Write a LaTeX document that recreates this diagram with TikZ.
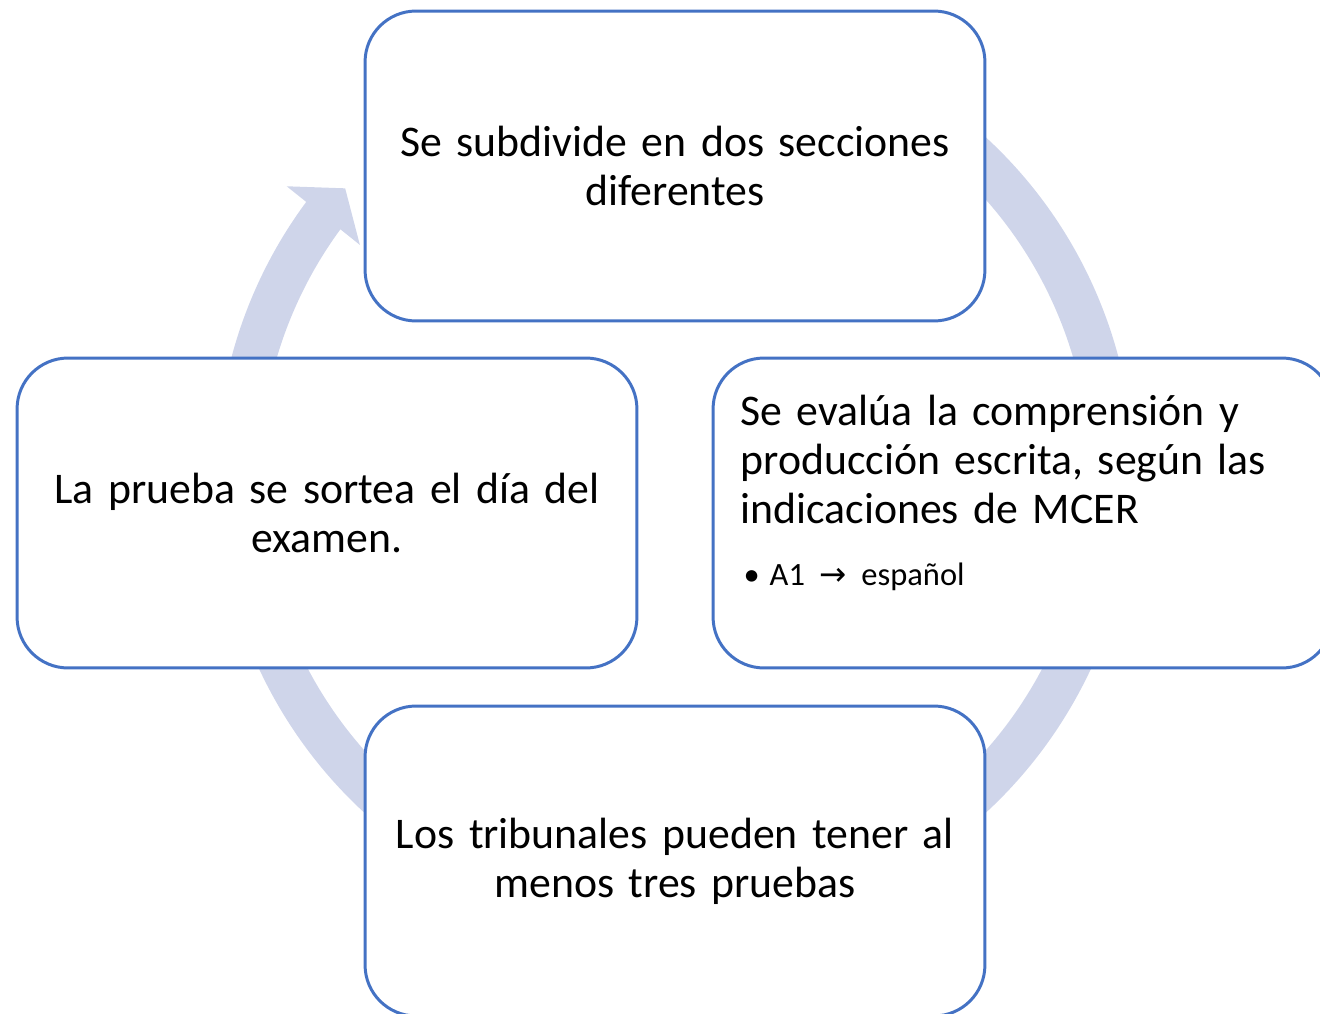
\documentclass[tikz,border=0pt]{standalone}
\usepackage{fontspec}
\setmainfont{Carlito}
\newfontfamily\arrowfont{DejaVu Sans}
\usetikzlibrary{arrows.meta,bending}
\definecolor{ringblue}{RGB}{207,213,234}
\definecolor{edgeblue}{RGB}{68,114,196}

\begin{document}
\begin{tikzpicture}[
    x=0.02cm, y=-0.02cm,
    stage/.style={rectangle, draw=edgeblue, line width=1.7pt, fill=white,
        rounded corners=1.02cm, minimum width=12.4cm, minimum height=6.2cm,
        text width=11.3cm, align=center, font=\fontsize{24.9}{27.8}\selectfont},
    ring/.style={draw=ringblue, line width=24.9pt}
]
    \useasboundingbox (0,0) rectangle (1320,1014);
    \coordinate (hub) at (675,475);
    \draw[ring, -{Triangle[length=0.7cm,width=1.84cm]}]
        ([shift={(-60:437)}]hub) arc[start angle=-60, end angle=221, radius=437];

    \node[stage] (sections) at (675,166) {Se subdivide en dos secciones\\diferentes};
    \node[stage, align=left] (skills) at (1023,513) {Se evalúa la comprensión y\\producción escrita, según las\\indicaciones de MCER\\[7.9pt]{\fontsize{18.5}{20}\selectfont\hspace*{0.06cm}•\hspace{0.2cm}A1 {\arrowfont →} español}\par\nointerlineskip\vbox to 0.8cm{}};
    \node[stage] (panels) at (675,861) {Los tribunales pueden tener al\\menos tres pruebas};
    \node[stage] (lottery) at (327,513) {La prueba se sortea el día del\\examen.};
\end{tikzpicture}
\end{document}
